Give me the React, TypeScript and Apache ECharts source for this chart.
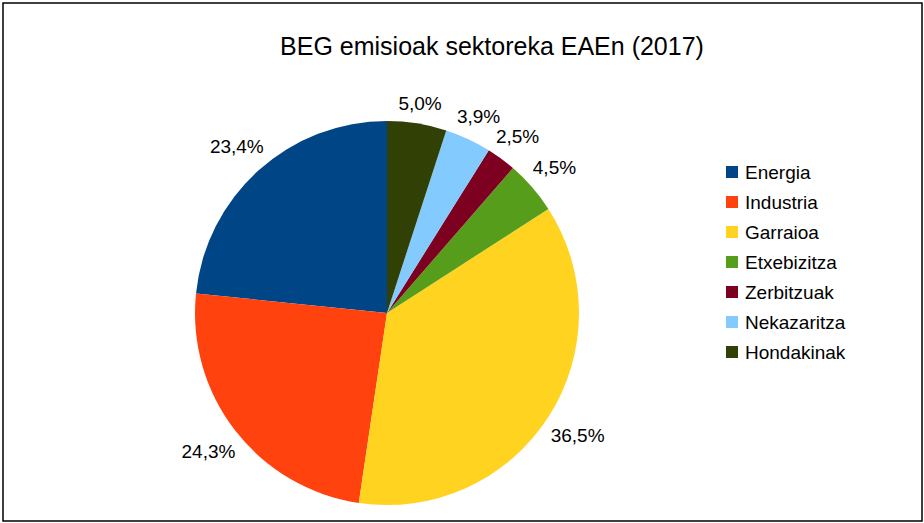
import React, { useEffect, useRef } from "react";
import * as echarts from "echarts";

const titleText = "BEG emisioak sektoreka EAEn (2017)";
const categories = ["Energia", "Industria", "Garraioa", "Etxebizitza", "Zerbitzuak", "Nekazaritza", "Hondakinak"];
const values = [23.4, 24.3, 36.5, 4.5, 2.5, 3.9, 5.0];
const colors = ["#004586", "#ff420e", "#ffd320", "#579d1c", "#7e0021", "#83caff", "#314004"];

const FONT = "'Liberation Sans', Arial, sans-serif";
const CX = 387;
const CY = 313;
const R = 192;
const LABEL_GAP = 7;

export default function App() {
  const ref = useRef<HTMLDivElement>(null);
  useEffect(() => {
    if (!ref.current) return;
    const chart = echarts.init(ref.current, undefined, { renderer: "svg" });
    const data = categories.map((name, i) => ({ name, value: values[i], itemStyle: { color: colors[i] } }));
    const fmt = (p: any) => p.value.toFixed(1).replace(".", ",") + "%";
    chart.setOption({
      animation: false,
      backgroundColor: "#ffffff",
      title: {
        text: titleText,
        left: 487,
        top: 28,
        textAlign: "center",
        textStyle: { fontFamily: FONT, fontSize: 25, fontWeight: "normal", color: "#000" },
      },
      legend: {
        orient: "vertical",
        left: 721,
        top: 157,
        itemWidth: 12,
        itemHeight: 12,
        itemGap: 10,
        icon: "rect",
        data: categories,
        textStyle: { fontFamily: FONT, fontSize: 19, color: "#000", lineHeight: 20, padding: [0, 0, 0, 2] },
      },
      graphic: [
        {
          type: "rect",
          shape: { x: 3, y: 3, width: 919, height: 518 },
          style: { fill: "none", stroke: "#000", lineWidth: 1.5 },
          silent: true,
        },
      ],
      series: [
        {
          type: "pie",
          center: [CX, CY],
          radius: R,
          startAngle: 90,
          clockwise: false,
          data,
          label: {
            show: true,
            position: "inside",
            formatter: fmt,
            fontFamily: FONT,
            fontSize: 19,
            color: "#000",
          },
          labelLayout: (p: any) => {
            const lr = p.labelRect;
            const mx = lr.x + lr.width / 2 - CX;
            const my = lr.y + lr.height / 2 - CY;
            const d = Math.sqrt(mx * mx + my * my) || 1;
            const ux = mx / d;
            const uy = my / d;
            const dist = R + LABEL_GAP + Math.abs(ux) * lr.width / 2 + Math.abs(uy) * lr.height / 2;
            return { x: CX + ux * dist, y: CY + uy * dist, align: "center", verticalAlign: "middle" };
          },
          labelLine: { show: false },
          itemStyle: { borderWidth: 0 },
          emphasis: { disabled: true },
        },
      ],
    });
    return () => chart.dispose();
  }, []);
  return <div ref={ref} style={{ position: "fixed", left: 0, top: 0, width: 924, height: 523 }} />;
}
